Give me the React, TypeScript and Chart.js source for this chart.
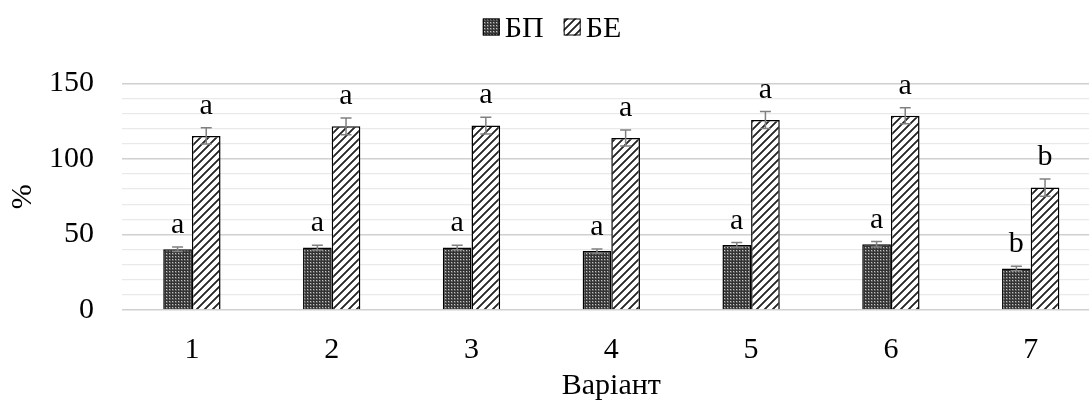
import React, { useEffect, useRef } from "react";
import { Chart, registerables } from "chart.js";
Chart.register(...registerables);

const categories = ["1", "2", "3", "4", "5", "6", "7"];
const seriesNames = ["БП", "БЕ"];
const bpValues = [40.2, 41.3, 41.4, 39.0, 43.0, 43.5, 27.5];
const beValues = [115.2, 121.5, 122.0, 113.8, 125.7, 128.6, 81.0];
const bpErrors = [1.5, 1.6, 1.5, 1.4, 1.6, 1.8, 1.5];
const beErrors = [5.4, 5.6, 5.5, 5.3, 5.6, 5.3, 5.7];
const bpLetters = ["a", "a", "a", "a", "a", "a", "b"];
const beLetters = ["a", "a", "a", "a", "a", "a", "b"];
const yMin = 0;
const yMax = 150;
const yStep = 10;
const yLabelStep = 50;
const xTitle = "Варіант";
const yTitle = "%";

const FONT = "'Liberation Serif', 'Times New Roman', serif";
const W = 1112;
const H = 408;

function makeDotPattern(): CanvasPattern | string {
  const c = document.createElement("canvas");
  c.width = 3;
  c.height = 3;
  const g = c.getContext("2d")!;
  g.fillStyle = "#5c5c5c";
  g.fillRect(0, 0, 3, 3);
  g.fillStyle = "#333333";
  g.fillRect(0, 0, 3, 1);
  g.fillRect(0, 0, 1, 3);
  g.fillStyle = "#c4c4c4";
  g.fillRect(1, 1, 1, 1);
  return g.createPattern(c, "repeat") || "#555";
}

function makeStripePattern(): CanvasPattern | string {
  const n = 8;
  const c = document.createElement("canvas");
  c.width = n;
  c.height = n;
  const g = c.getContext("2d")!;
  g.fillStyle = "#ffffff";
  g.fillRect(0, 0, n, n);
  for (let x = 0; x < n; x++) {
    for (let y = 0; y < n; y++) {
      const k = (x + y) % n;
      if (k === 0 || k === 1 || k === 2) {
        g.fillStyle = k === 1 ? "#262626" : "#555555";
        g.fillRect(x, y, 1, 1);
      }
    }
  }
  return g.createPattern(c, "repeat") || "#888";
}

export default function App() {
  const ref = useRef<HTMLCanvasElement | null>(null);

  useEffect(() => {
    const canvas = ref.current;
    if (!canvas) return;
    const dot = makeDotPattern();
    const stripe = makeStripePattern();
    const fills = [dot, stripe];
    const values = [bpValues, beValues];
    const errors = [bpErrors, beErrors];
    const letters = [bpLetters, beLetters];

    const overlay = {
      id: "overlay",
      afterDatasetsDraw(chart: any) {
        const ctx: CanvasRenderingContext2D = chart.ctx;
        const ys = chart.scales.y;
        ctx.save();
        for (let d = 0; d < 2; d++) {
          const meta = chart.getDatasetMeta(d);
          meta.data.forEach((bar: any, i: number) => {
            const v = values[d][i];
            const e = errors[d][i];
            const yTop = ys.getPixelForValue(v + e);
            const yBot = ys.getPixelForValue(v - e);
            ctx.strokeStyle = "#808080";
            ctx.lineWidth = 1.5;
            ctx.beginPath();
            ctx.moveTo(bar.x, yTop);
            ctx.lineTo(bar.x, yBot);
            ctx.moveTo(bar.x - 5.5, yTop);
            ctx.lineTo(bar.x + 5.5, yTop);
            ctx.moveTo(bar.x - 5.5, yBot);
            ctx.lineTo(bar.x + 5.5, yBot);
            ctx.stroke();
            ctx.fillStyle = "#000";
            ctx.font = `30px ${FONT}`;
            ctx.textAlign = "center";
            ctx.textBaseline = "alphabetic";
            ctx.fillText(letters[d][i], bar.x, yTop - 14);
          });
        }
        ctx.restore();
      },
      afterDraw(chart: any) {
        const ctx: CanvasRenderingContext2D = chart.ctx;
        const area = chart.chartArea;
        ctx.save();
        ctx.fillStyle = "#000";
        ctx.font = `30px ${FONT}`;
        ctx.textAlign = "center";
        ctx.textBaseline = "alphabetic";
        ctx.fillText(xTitle, (area.left + area.right) / 2, 394);
        ctx.save();
        ctx.translate(31, (area.top + area.bottom) / 2);
        ctx.rotate(-Math.PI / 2);
        ctx.fillText(yTitle, 0, 0);
        ctx.restore();
        const box = 17;
        const gap = 5;
        const between = 20;
        const widths = seriesNames.map((s) => ctx.measureText(s).width);
        const total = widths.reduce((a, w) => a + box + gap + w, 0) + between * (seriesNames.length - 1);
        let x = chart.width / 2 - 4 - total / 2;
        const boxTop = 18.5;
        seriesNames.forEach((s, i) => {
          ctx.fillStyle = fills[i] as any;
          ctx.fillRect(x, boxTop, box, box);
          ctx.strokeStyle = "#000";
          ctx.lineWidth = 1;
          ctx.strokeRect(x + 0.5, boxTop + 0.5, box - 1, box - 1);
          ctx.fillStyle = "#000";
          ctx.textAlign = "left";
          ctx.fillText(s, x + box + gap, 37);
          x += box + gap + widths[i] + between;
        });
        ctx.restore();
      },
    };

    const chart = new Chart(canvas, {
      type: "bar",
      data: {
        labels: categories,
        datasets: [
          {
            label: seriesNames[0],
            data: bpValues,
            backgroundColor: dot as any,
            borderColor: "#000",
            borderWidth: 1.5,
            categoryPercentage: 0.41,
            barPercentage: 1.0,
          },
          {
            label: seriesNames[1],
            data: beValues,
            backgroundColor: stripe as any,
            borderColor: "#000",
            borderWidth: 1.5,
            categoryPercentage: 0.41,
            barPercentage: 1.0,
          },
        ],
      },
      options: {
        responsive: false,
        animation: false,
        devicePixelRatio: 1,
        layout: { padding: { left: 0, right: W - 1100.6, top: 83.3, bottom: 0 } },
        plugins: {
          legend: { display: false },
          tooltip: { enabled: false },
          title: { display: false },
        },
        scales: {
          x: {
            grid: { display: false },
            border: { display: false },
            ticks: {
              color: "#000",
              font: { family: FONT, size: 30 },
              padding: 14,
              maxRotation: 0,
            },
            afterFit: (s: any) => {
              s.height = H - 310;
            },
          },
          y: {
            min: yMin,
            max: yMax,
            border: { display: false },
            grid: {
              drawTicks: false,
              color: (c: any) => (c.tick && c.tick.value % yLabelStep === 0 ? "#d0d0d0" : "#e9e9e9"),
              lineWidth: (c: any) => (c.tick && c.tick.value % yLabelStep === 0 ? 1.5 : 1.2),
            },
            ticks: {
              stepSize: yStep,
              maxTicksLimit: 100,
              autoSkip: false,
              color: "#000",
              font: { family: FONT, size: 30 },
              padding: 28,
              callback: (v: any) => (Number(v) % yLabelStep === 0 ? String(v) : ""),
            },
            afterFit: (s: any) => {
              s.width = 122;
            },
          },
        },
      },
      plugins: [overlay],
    });
    return () => chart.destroy();
  }, []);

  return (
    <div
      style={{
        position: "fixed",
        left: 0,
        top: 0,
        width: 1089,
        height: H,
        overflow: "hidden",
        background: "#fff",
      }}
    >
      <canvas ref={ref} width={W} height={H} style={{ display: "block", width: W, height: H }} />
    </div>
  );
}
